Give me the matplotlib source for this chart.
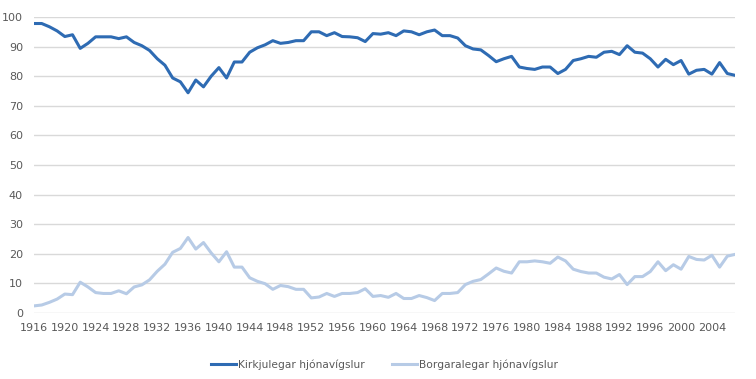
import matplotlib
matplotlib.use("Agg")
import matplotlib.pyplot as plt

years = list(range(1916, 2008))
kirkjulegar = [
    97.8, 97.8, 96.7, 95.3, 93.4, 94.0, 89.4, 91.1, 93.3, 93.3,
    93.3, 92.7, 93.3, 91.4, 90.3, 88.7, 85.9, 83.7, 79.4, 78.1,
    74.4, 78.7, 76.4, 80.0, 82.9, 79.4, 84.8, 84.8, 88.1, 89.6,
    90.6, 92.0, 91.1, 91.4, 92.0, 92.0, 95.0, 95.0, 93.7, 94.7,
    93.4, 93.3, 93.0, 91.7, 94.4, 94.2, 94.7, 93.7, 95.3, 95.0,
    94.0, 95.0, 95.6, 93.7, 93.7, 92.9, 90.3, 89.2, 88.9, 87.0,
    84.9, 85.9, 86.7, 83.1, 82.6, 82.3, 83.1, 83.1, 80.9, 82.3,
    85.3, 85.9, 86.7, 86.4, 88.1, 88.4, 87.3, 90.3, 88.1, 87.8,
    85.9, 83.1, 85.7, 83.9, 85.3, 80.7, 82.0, 82.3, 80.7, 84.6,
    80.9, 80.3,
]
borgaralegar = [
    2.4, 2.7, 3.6, 4.7, 6.4, 6.2, 10.4, 8.8, 6.9, 6.6,
    6.6, 7.5, 6.5, 8.8, 9.5, 11.2, 14.1, 16.5, 20.5, 21.8,
    25.5, 21.6, 23.8, 20.3, 17.3, 20.7, 15.5, 15.5, 11.9, 10.7,
    9.9, 8.0, 9.3, 8.9, 8.0, 8.0, 5.1, 5.4, 6.6, 5.6,
    6.6, 6.6, 6.9, 8.2, 5.6, 5.9, 5.3, 6.6, 4.9, 4.9,
    5.9, 5.2, 4.2, 6.6, 6.6, 6.9, 9.6, 10.7, 11.3, 13.2,
    15.2, 14.1, 13.5, 17.3, 17.3, 17.6, 17.3, 16.8, 18.9, 17.6,
    14.8, 14.0, 13.5, 13.5, 12.1, 11.5, 13.0, 9.6, 12.3, 12.3,
    14.0, 17.3, 14.3, 16.3, 14.8, 19.1, 18.1, 17.9, 19.5, 15.5,
    19.2, 19.8,
]
series_names = ["Kirkjulegar hjónavígslur", "Borgaralegar hjónavígslur"]
x_ticks = list(range(1916, 2005, 4))
y_ticks = list(range(0, 101, 10))

plt.rcParams['font.family'] = ['DejaVu Sans']
fig = plt.figure(figsize=(7.56, 3.79), dpi=100)
ax = fig.add_axes([34/756, 1 - 313/379, 701/756, 296/379])

ax.plot(years, kirkjulegar, color="#2e6bb3", lw=2.2, label=series_names[0],
        solid_joinstyle="round", zorder=3)
ax.plot(years, borgaralegar, color="#b7cbe6", lw=2.2, label=series_names[1],
        solid_joinstyle="round", zorder=3)

ax.set_xlim(1916, 2007)
ax.set_ylim(0, 100)
ax.set_yticks(y_ticks)
ax.set_xticks(x_ticks)
ax.set_xticklabels([str(t) for t in x_ticks])
ax.grid(axis="y", color="#d9d9d9", lw=1)
ax.set_axisbelow(True)
for s in ax.spines.values():
    s.set_visible(False)
ax.tick_params(axis="both", length=0, labelsize=8, colors="#595959")
ax.tick_params(axis="y", pad=8)
ax.tick_params(axis="x", pad=7)

leg = ax.legend(loc="upper center", bbox_to_anchor=(0.5, -0.125), ncol=2,
                frameon=False, fontsize=7.7, handlelength=2.3, handletextpad=0.2,
                columnspacing=2.6)
for t in leg.get_texts():
    t.set_color("#595959")

fig.savefig("out.png", dpi=100)
